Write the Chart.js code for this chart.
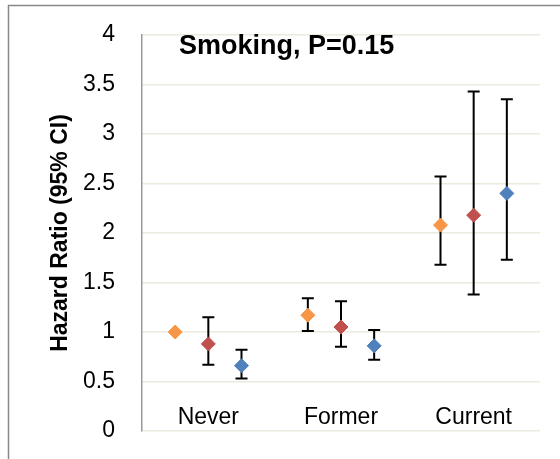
<!DOCTYPE html>
<html>
<head>
<meta charset="utf-8">
<script src="https://cdn.jsdelivr.net/npm/chart.js@4/dist/chart.umd.min.js"></script>
<style>
  html, body { margin: 0; padding: 0; background: #ffffff; }
  #wrap { width: 560px; height: 459px; position: relative; }
  canvas { display: block; }
</style>
</head>
<body>
<div id="wrap"><canvas id="c" width="560" height="459"></canvas></div>
<script>
// ---- Data ----
const categories = ["Never", "Former", "Current"];
const chartTitle = "Smoking, P=0.15";
const yAxisTitle = "Hazard Ratio (95% CI)";
const yTicks = [0, 0.5, 1, 1.5, 2, 2.5, 3, 3.5, 4];

// three models per category (orange, red, blue)
const orangeHR    = [1.00, 1.17, 2.08];
const orangeLower = [null, 1.01, 1.68];
const orangeUpper = [null, 1.34, 2.57];

const redHR    = [0.88, 1.05, 2.18];
const redLower = [0.67, 0.85, 1.38];
const redUpper = [1.15, 1.31, 3.43];

const blueHR    = [0.66, 0.86, 2.40];
const blueLower = [0.53, 0.72, 1.73];
const blueUpper = [0.82, 1.02, 3.35];

const seriesOffsets = [-0.25, 0, 0.25];
const FONT = "'Liberation Sans', Arial, sans-serif";

function makeDataset(hr, lo, hi, offset, color) {
  return {
    data: categories.map((c, i) => ({ x: i + offset, y: hr[i], lo: lo[i], hi: hi[i] })),
    backgroundColor: color,
    borderColor: color,
    borderWidth: 1,
    pointStyle: 'rectRot',
    pointRadius: 7,
    pointHoverRadius: 7,
    showLine: false
  };
}

const errorBars = {
  id: 'errorBars',
  beforeDatasetsDraw(chart) {
    const ctx = chart.ctx;
    const xs = chart.scales.x, ys = chart.scales.y;
    ctx.save();
    ctx.strokeStyle = '#000000';
    ctx.lineWidth = 2;
    chart.data.datasets.forEach(ds => {
      ds.data.forEach(p => {
        if (p.lo == null || p.hi == null) return;
        const x = xs.getPixelForValue(p.x);
        const y1 = ys.getPixelForValue(p.lo);
        const y2 = ys.getPixelForValue(p.hi);
        ctx.beginPath();
        ctx.moveTo(x, y1); ctx.lineTo(x, y2);
        ctx.moveTo(x - 6, y1); ctx.lineTo(x + 6, y1);
        ctx.moveTo(x - 6, y2); ctx.lineTo(x + 6, y2);
        ctx.stroke();
      });
    });
    ctx.restore();
  }
};

const decor = {
  id: 'decor',
  beforeDraw(chart) {
    const ctx = chart.ctx;
    ctx.save();
    ctx.fillStyle = '#ffffff';
    ctx.fillRect(0, 0, chart.width, chart.height);
    ctx.strokeStyle = '#888888';
    ctx.lineWidth = 1.5;
    ctx.strokeRect(8.5, 5.5, 600, 600);
    ctx.restore();
  },
  afterDraw(chart) {
    const ctx = chart.ctx;
    const xs = chart.scales.x;
    ctx.save();
    ctx.fillStyle = '#000000';
    ctx.font = "bold 27px " + FONT;
    ctx.textAlign = 'left';
    ctx.textBaseline = 'middle';
    ctx.fillText(chartTitle, 179, 47);
    // category labels (drawn inside the plot, just above the 0 line)
    ctx.font = "23px " + FONT;
    ctx.textAlign = 'center';
    categories.forEach((c, i) => {
      ctx.fillText(c, xs.getPixelForValue(i), chart.chartArea.bottom - 13);
    });
    ctx.restore();
  }
};

new Chart(document.getElementById('c'), {
  type: 'scatter',
  data: {
    datasets: [
      makeDataset(orangeHR, orangeLower, orangeUpper, seriesOffsets[0], '#F79646'),
      makeDataset(redHR, redLower, redUpper, seriesOffsets[1], '#C0504D'),
      makeDataset(blueHR, blueLower, blueUpper, seriesOffsets[2], '#4F81BD')
    ]
  },
  options: {
    responsive: false,
    animation: false,
    layout: { padding: { top: 35, right: 20, left: 0, bottom: 28 } },
    plugins: { legend: { display: false }, tooltip: { enabled: false } },
    scales: {
      x: {
        type: 'linear',
        display: false,
        min: -0.5, max: 2.5
      },
      y: {
        min: 0, max: 4,
        afterBuildTicks: s => { s.ticks = yTicks.map(v => ({ value: v })); },
        afterFit: s => { s.width = 142; s.paddingTop = 0; s.paddingBottom = 0; },
        grid: { color: '#ECEADF', lineWidth: 1.5, drawTicks: false },
        border: { display: true, color: '#999999', width: 1.5 },
        ticks: {
          padding: 27,
          color: '#000000',
          font: { family: FONT, size: 23 },
          callback: v => String(v)
        },
        title: {
          display: true,
          text: yAxisTitle,
          color: '#000000',
          font: { family: FONT, size: 23, weight: 'bold' },
          padding: { top: 47, bottom: 0 }
        }
      }
    }
  },
  plugins: [decor, errorBars]
});
</script>
</body>
</html>
